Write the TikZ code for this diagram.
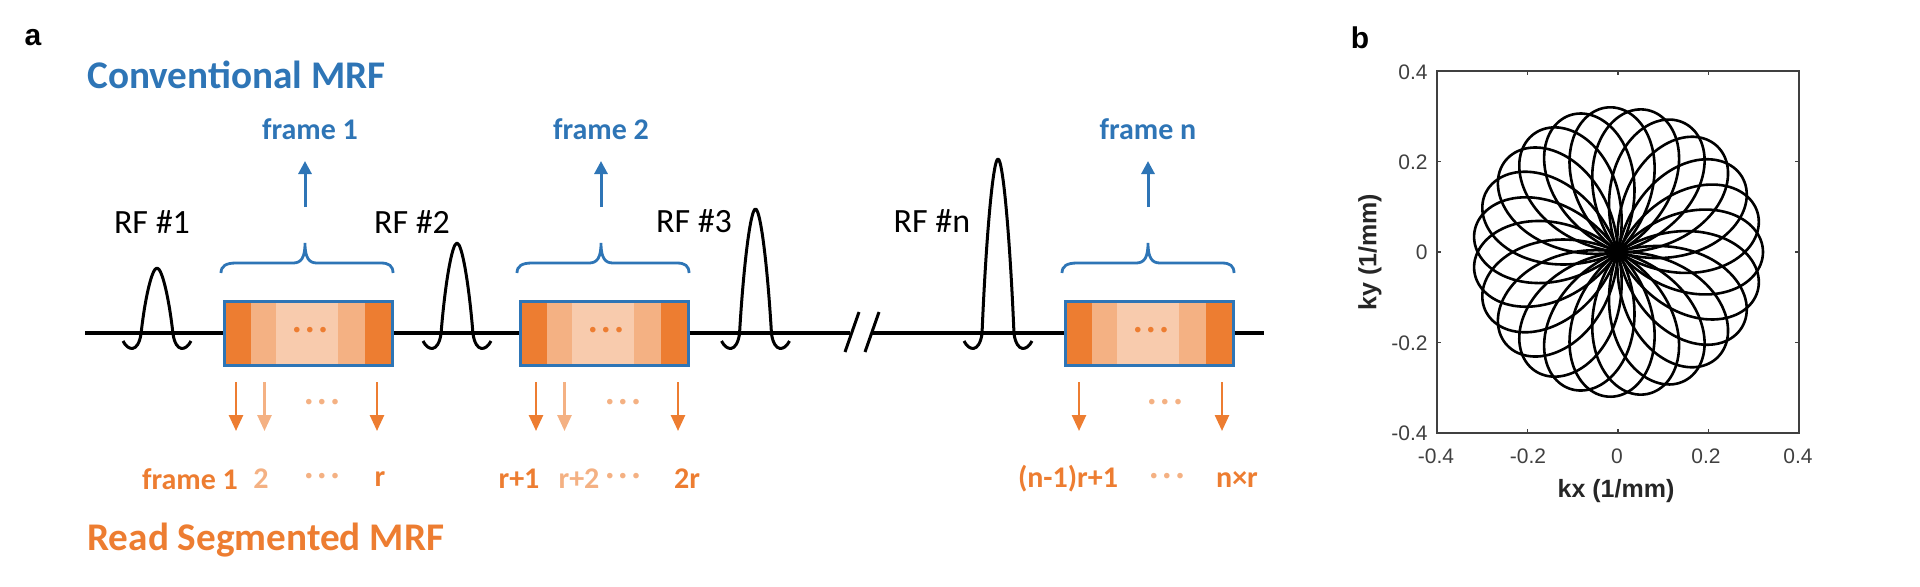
\documentclass[tikz,border=0pt]{standalone}
\usepackage{fontspec}
\setmainfont{Carlito}
\newfontfamily\plotfont{Liberation Sans}
\usetikzlibrary{arrows.meta}
\definecolor{mrfblue}{HTML}{2E75B6}
\definecolor{mrforange}{HTML}{ED7D31}
\definecolor{mrfmid}{HTML}{F4B183}
\definecolor{mrflight}{HTML}{F8CBAD}
\tikzset{
    title/.style={font=\fontsize{19.6}{22}\selectfont\bfseries, anchor=west, inner sep=0pt},
    framelabel/.style={font=\fontsize{15}{18}\selectfont\bfseries, inner sep=0pt},
    rflabel/.style={font=\fontsize{17}{20}\selectfont, inner sep=0pt},
    panel/.style={font=\plotfont\fontsize{15}{18}\selectfont\bfseries, inner sep=0pt},
    ticklabel/.style={font=\plotfont\fontsize{10.5}{12}\selectfont, text=black!75, inner sep=0pt},
    axislabel/.style={font=\plotfont\fontsize{12.5}{15}\selectfont\bfseries, text=black!85, inner sep=0pt},
    dotlabel/.style={font=\fontsize{15}{18}\selectfont\bfseries\addfontfeatures{LetterSpace=17}, inner sep=0pt},
    acqbox/.style={draw=mrfblue, line width=1.5pt, minimum width=84pt, minimum height=32pt, inner sep=0pt},
    baseline/.style={line width=2pt},
    pulse/.style={line width=1.5pt, line join=round},
    uparrow/.style={draw=mrfblue, line width=1.5pt, -{Triangle[width=6.5pt,length=6.5pt]}},
    downarrow/.style={line width=1.3pt, -{Triangle[width=7pt,length=8pt]}},
    trajectory/.style={line width=1.3pt}
}
\begin{document}
\begin{tikzpicture}[x=0.5pt,y=-0.5pt]
    \useasboundingbox (0,0) rectangle (1920,586);
    \node[panel] (panela) at (33,38) {a};
    \node[panel] (panelb) at (1360,38) {b};
    \node[title, text=mrfblue] (conv) at (87,75) {Conventional MRF};
    \node[title, text=mrforange] (read) at (87,540) {Read Segmented MRF};

    % acquisition boxes
    \foreach \name/\x/\cx/\lx/\flabel in {1/224/305/310/frame 1, 2/520/601/601/frame 2, 3/1065/1148/1148/frame n}{
        \fill[mrforange] (\x,301) rectangle ++(168,64);
        \fill[mrfmid] (\x+27,301) rectangle ++(114,64);
        \fill[mrflight] (\x+52,301) rectangle ++(62,64);
        \node[acqbox] (box\name) at (\x+84,333) {};
        \node[dotlabel, text=mrforange] (boxdots\name) at (\x+86,333) {···};
        \draw[mrfblue, line width=1.4pt] (\x-3,273) .. controls (\x-3,266) and (\x+2,263) .. (\x+12,263)
            -- (\cx-12,263) .. controls (\cx-4,263) and (\cx,258) .. (\cx,243)
            .. controls (\cx,258) and (\cx+4,263) .. (\cx+12,263)
            -- (\x+157,263) .. controls (\x+165,263) and (\x+169,266) .. (\x+169,273);
        \node[framelabel, text=mrfblue] (top\name) at (\lx,129) {\flabel};
        \coordinate (upstart\name) at (\cx,207);
        \coordinate (upend\name) at (\cx,161);
        \draw[uparrow] (upstart\name) -- (upend\name);
    }

    % time line
    \coordinate (linestart) at (85,333);
    \coordinate (breakleft) at (850,333);
    \coordinate (breakright) at (872,333);
    \coordinate (lineend) at (1264,333);
    \draw[baseline] (linestart) -- (box1.west);
    \draw[baseline] (box1.east) -- (box2.west);
    \draw[baseline] (box2.east) -- (breakleft);
    \draw[baseline] (breakright) -- (box3.west);
    \draw[baseline] (box3.east) -- (lineend);
    \draw[line width=1.5pt] (845,352) -- (859,312);
    \draw[line width=1.5pt] (865,352) -- (879,312);

    % rf pulses
    \foreach \c/\p in {157/268, 457/243, 755.5/209, 998/159}{
        \pgfmathsetmacro{\h}{(334-\p)*0.55}
        \draw[pulse] (\c-34,341) .. controls (\c-29,351) and (\c-19,353) .. (\c-16,334)
            .. controls (\c-12,334-\h) and (\c-5,\p) .. (\c,\p)
            .. controls (\c+5,\p) and (\c+12,334-\h) .. (\c+16,334)
            .. controls (\c+19,353) and (\c+29,351) .. (\c+34,341);
    }
    \node[rflabel] (rf1) at (152,222) {RF \#1};
    \node[rflabel] (rf2) at (412,222) {RF \#2};
    \node[rflabel] (rf3) at (694,221) {RF \#3};
    \node[rflabel] (rfn) at (932,221) {RF \#n};

    % read segments
    \foreach \i/\x/\col in {1/236/mrforange, 2/264.5/mrfmid, 3/377/mrforange, 4/536/mrforange, 5/564.5/mrfmid, 6/678/mrforange, 7/1079/mrforange, 8/1222/mrforange}{
        \coordinate (downstart\i) at (\x,382);
        \coordinate (downend\i) at (\x,431);
        \draw[downarrow, \col] (downstart\i) -- (downend\i);
    }
    \node[dotlabel, text=mrfmid] (dots1) at (322,405) {···};
    \node[dotlabel, text=mrfmid] (dots2) at (623,405) {···};
    \node[dotlabel, text=mrfmid] (dots3) at (1165,405) {···};

    \node[framelabel, text=mrforange] (seg1) at (190,479) {frame 1};
    \node[framelabel, text=mrfmid] (seg2) at (261,479) {2};
    \node[dotlabel, text=mrfmid] (dots4) at (322,479) {···};
    \node[framelabel, text=mrforange] (seg3) at (380,479) {r};
    \node[framelabel, text=mrforange] (seg4) at (519,479) {r+1};
    \node[framelabel, text=mrfmid] (seg5) at (579,479) {r+2};
    \node[dotlabel, text=mrfmid] (dots5) at (623,479) {···};
    \node[framelabel, text=mrforange] (seg6) at (687,479) {2r};
    \node[framelabel, text=mrforange] (seg7) at (1068,479) {(n-1)r+1};
    \node[dotlabel, text=mrfmid] (dots6) at (1167,479) {···};
    \node[framelabel, text=mrforange] (seg8) at (1237,479) {n×r};

    % k-space plot
    \foreach \i in {0,...,22}{
        \draw[trajectory, shift={(1618,252)}, rotate=\i*360/23] plot[domain=-48.6:48.6, samples=41, smooth] ({145*cos(1.85*\x)*cos(\x)},{145*cos(1.85*\x)*sin(\x)});
    }
    \draw[black!75, line width=0.8pt] (1437,71) rectangle (1799,433);
    \foreach \i in {1,2,3}{
        \draw[black!75, line width=0.6pt] (1437+\i*90.5,433) -- ++(0,-4);
        \draw[black!75, line width=0.6pt] (1437+\i*90.5,71) -- ++(0,4);
        \draw[black!75, line width=0.6pt] (1437,71+\i*90.5) -- ++(4,0);
        \draw[black!75, line width=0.6pt] (1799,71+\i*90.5) -- ++(-4,0);
    }
    \foreach \name/\val/\x in {a/-0.4/1436, b/-0.2/1528, c/0/1617, d/0.2/1706, e/0.4/1798}{
        \node[ticklabel] (xtick\name) at (\x,456) {\val};
    }
    \foreach \name/\val/\y in {a/0.4/72, b/0.2/162, c/0/252, d/-0.2/343, e/-0.4/433}{
        \node[ticklabel, anchor=east] (ytick\name) at (1428,\y) {\val};
    }
    \node[axislabel] (kxlabel) at (1616,491) {kx (1/mm)};
    \node[axislabel, rotate=90] (kylabel) at (1370,252) {ky (1/mm)};
\end{tikzpicture}
\end{document}
